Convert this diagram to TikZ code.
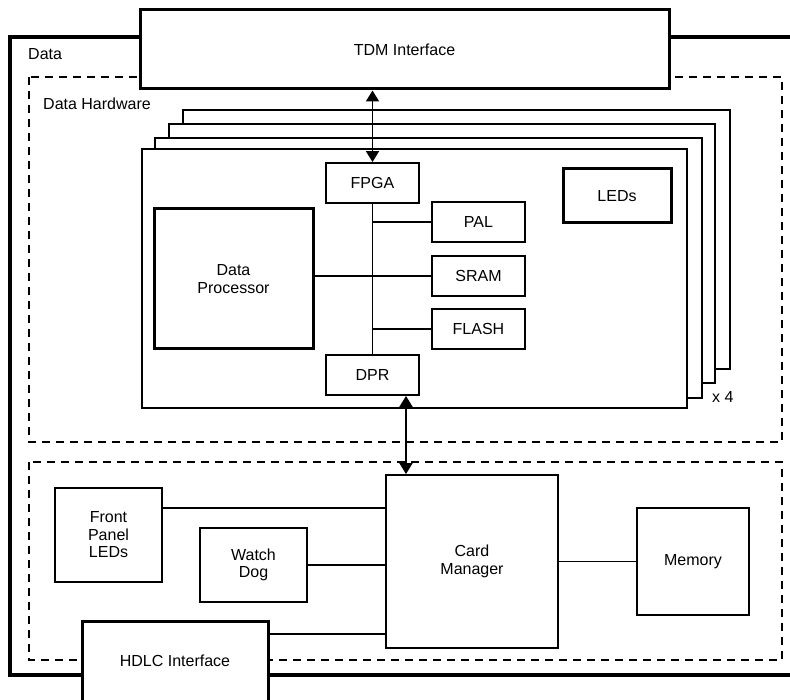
\documentclass[tikz,border=0pt]{standalone}
\usepackage{fontspec}
\setmainfont{Liberation Sans}
\usetikzlibrary{arrows.meta}
\begin{document}
\begin{tikzpicture}[x=1pt,y=-1pt,
  txt/.style={font=\fontsize{16}{17.5}\selectfont, align=center},
  box/.style={txt, draw, line width=1.9pt, fill=white, inner sep=0pt, rectangle},
  tbox/.style={box, line width=3pt},
  card/.style={draw, line width=1.3pt, fill=white},
  conn/.style={line width=1.9pt},
  biarrow/.style={line width=1.9pt, {Triangle[width=13pt,length=11pt]}-{Triangle[width=13pt,length=11pt]}},
  grp/.style={draw, line width=2.2pt, dash pattern=on 8pt off 6pt},
  lbl/.style={txt, anchor=west, inner sep=0pt}
]
\useasboundingbox (0,0) rectangle (790,700);
% outer Data box
\draw[line width=4.5pt] (10,37) rectangle (810,675);
\node[lbl] (datalbl) at (28,54) {Data};
% dashed groups
\draw[grp] (29,77) rectangle (782,442);
\draw[grp] (29,462) rectangle (782,660);
\node[lbl] (hwlbl) at (43,104) {Data Hardware};
% TDM interface
\node[tbox, minimum width=529pt, minimum height=79pt] (tdm) at (404.5,49.5) {TDM Interface};
% stacked cards
\draw[card] (183,110) rectangle (730,369);
\draw[card] (169,124) rectangle (715,383);
\draw[card] (155,138) rectangle (702,398);
\draw[card] (142,149) rectangle (687,408);
\node[lbl] (x4) at (712,397) {x 4};
% card contents
\node[box, minimum width=93pt, minimum height=40pt] (fpga) at (372.5,183) {FPGA};
\node[box, minimum width=93pt, minimum height=40pt] (dpr) at (372.5,375) {DPR};
\node[tbox, minimum width=159pt, minimum height=140pt] (dp) at (233.5,279) {Data\\Processor};
\node[box, minimum width=93pt, minimum height=40pt] (pal) at (478.5,222) {PAL};
\node[box, minimum width=93pt, minimum height=40pt] (sram) at (478.5,276) {SRAM};
\node[box, minimum width=93pt, minimum height=40pt] (flash) at (478.5,329) {FLASH};
\node[tbox, minimum width=108pt, minimum height=54pt] (leds) at (617,196) {LEDs};
\draw[conn] (fpga.south) -- (dpr.north);
\draw[conn] (fpga.south |- pal.west) -- (pal.west);
\draw[conn] (dp.east |- sram.west) -- (sram.west);
\draw[conn] (fpga.south |- flash.west) -- (flash.west);
% lower group
\node[box, minimum width=172pt, minimum height=173pt] (cm) at (472,561.5) {Card\\Manager};
\node[box, minimum width=112pt, minimum height=107pt] (mem) at (693,561.5) {Memory};
\node[box, minimum width=107pt, minimum height=94pt] (fp) at (108.5,535) {Front\\Panel\\LEDs};
\node[box, minimum width=107pt, minimum height=74pt] (wd) at (253.5,565) {Watch\\Dog};
\node[tbox, minimum width=186pt, minimum height=80pt] (hdlc) at (175,661) {HDLC Interface};
\coordinate (yfp) at (0,508);
\coordinate (yhd) at (0,634);
\draw[conn] (fp.east |- yfp) -- (cm.west |- yfp);
\draw[conn] (wd.east) -- (wd.east -| cm.west);
\draw[conn] (hdlc.east |- yhd) -- (cm.west |- yhd);
\draw[conn] (cm.east |- mem.west) -- (mem.west);
% arrows
\coordinate (xa) at (406,0);
\draw[biarrow] (tdm.south -| fpga.north) -- (fpga.north);
\draw[biarrow] (dpr.south -| xa) -- (cm.north -| xa);
\end{tikzpicture}
\end{document}
